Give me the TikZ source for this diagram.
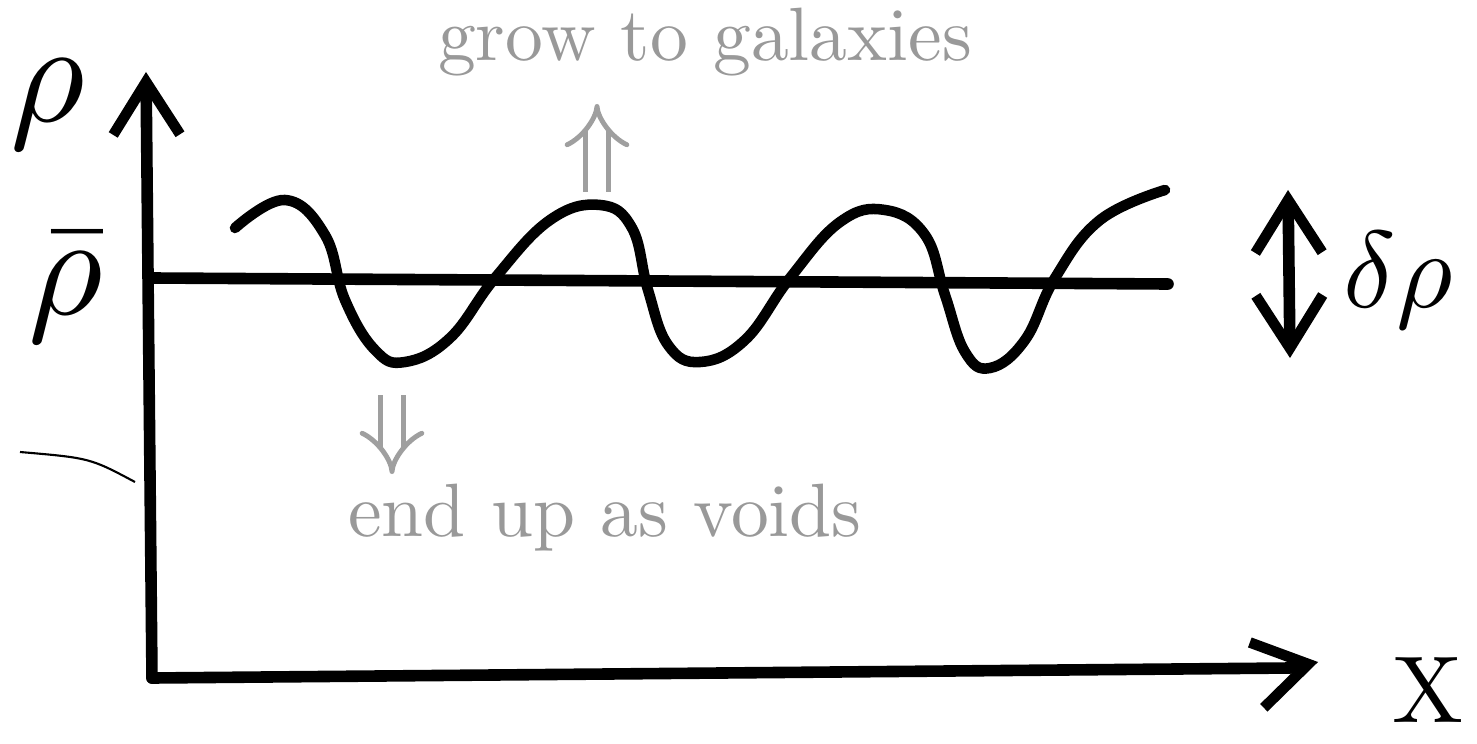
\documentclass[tikz,border=0pt]{standalone}
\usetikzlibrary{arrows.meta}

\tikzset{
  ink/.style={black, line width=3.3pt, line cap=round, line join=round},
  barb/.style={-{Straight Barb[length=15pt,width=19pt,line width=3pt]}},
  pencil/.style={gray!75, double, double distance=5pt, line width=1.4pt, -{Implies[scale=1.6]}},
  note/.style={gray!80, scale=2.15},
  big/.style={scale=4.1, inner sep=0pt}
}

\begin{document}
\begin{tikzpicture}[x=0.01cm, y=-0.01cm]
    \useasboundingbox (0,0) rectangle (1477,743);

    \coordinate (O) at (152,678);
    \coordinate (Ytop) at (146,72);
    \coordinate (Xend) at (1318,662);
    \coordinate (Mleft) at (152,278);
    \coordinate (Mright) at (1168,284);

    % axes and mean density
    \draw[ink, barb] (O) -- (Ytop);
    \draw[ink, barb] (O) -- (1290,668) -- (Xend);
    \draw[ink] (Mleft) -- (Mright);

    % the perturbation
    \draw[ink, line width=3pt] plot[smooth, tension=0.7] coordinates {
        (235,228) (285,200) (325,235) (345,300) (375,350) (405,362) (450,338)
        (495,278) (550,220) (600,205) (632,228) (648,290) (668,345) (700,362)
        (745,340) (790,278) (840,222) (885,210) (925,235) (945,295) (965,352)
        (990,368) (1025,340) (1055,278) (1100,220) (1165,190)};

    \coordinate (peak) at (597,192);
    \coordinate (uptip) at (597,104);
    \coordinate (trough) at (392,395);
    \coordinate (downtip) at (392,474);

    % labels
    \node[big] (rho) at (48,104) {$\rho$};
    \node[big] (rhobar) at (66,288) {$\bar\rho$};
    \node[scale=3.1, inner sep=0pt] (drho) at (1398,280) {$\delta\rho$};
    \node[scale=2.7, inner sep=0pt] (xlab) at (1428,690) {X};
    \node[note] (grow) at (705,42) {grow to galaxies};
    \node[note] (voids) at (605,518) {end up as voids};

    \draw[pencil] (peak) -- (uptip);
    \draw[pencil] (trough) -- (downtip);

    \coordinate (dtop) at (1288,190);
    \coordinate (dbot) at (1290,358);
    \draw[ink, {Straight Barb[length=15pt,width=19pt,line width=3pt]}-{Straight Barb[length=15pt,width=19pt,line width=3pt]}] (dtop) -- (dbot);

    \draw[line width=0.6pt] (20,452) .. controls (90,458) .. (135,482);
\end{tikzpicture}
\end{document}
